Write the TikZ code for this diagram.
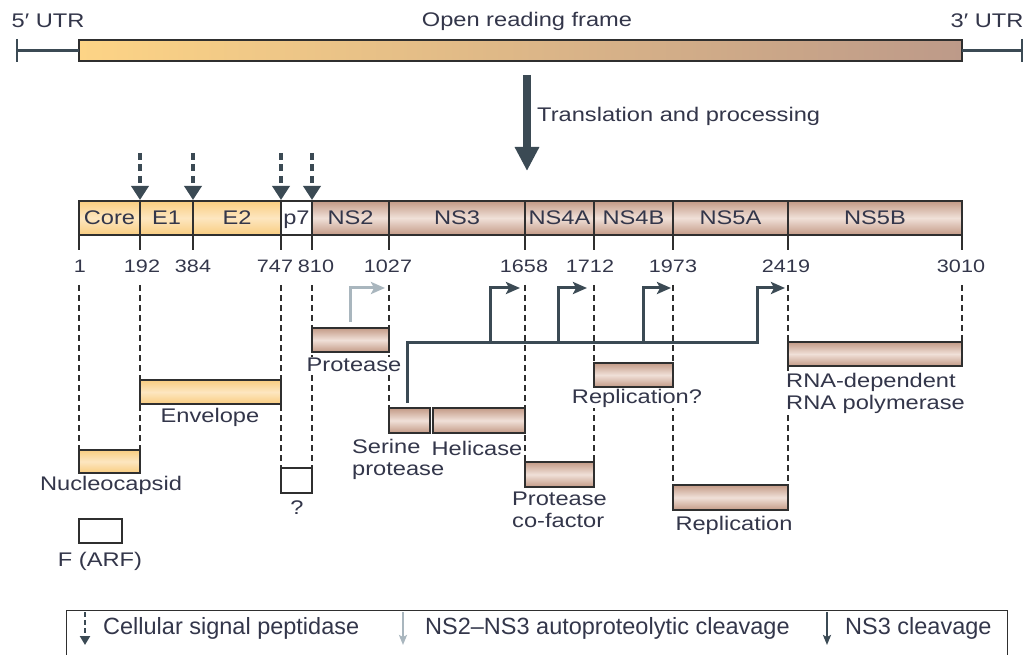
\documentclass[tikz,border=0pt]{standalone}
\usepackage{fontspec}
\setmainfont{Liberation Sans}[FakeStretch=1.2]
\newfontfamily\legfont{Liberation Sans}
\usetikzlibrary{arrows.meta,calc}
\pgfdeclarelayer{bg}
\pgfsetlayers{bg,main}
\definecolor{txt}{HTML}{33364A}
\definecolor{dk}{HTML}{3B4A54}
\definecolor{edge}{HTML}{2F2F2F}
\definecolor{gr}{HTML}{A9B6BE}
\definecolor{yA}{HTML}{F9CD80}
\definecolor{yB}{HTML}{FDE6C0}
\definecolor{bA}{HTML}{C39A86}
\definecolor{bB}{HTML}{F0E0D8}
\definecolor{oL}{HTML}{FDD486}
\definecolor{oR}{HTML}{BD9A89}
\tikzset{
  box/.style={draw=edge, line width=1.3pt, inner sep=0pt, outer sep=0pt, anchor=north west},
  ybox/.style={box, top color=yA, bottom color=yA, middle color=yB},
  bbox/.style={box, top color=bA, bottom color=bA, middle color=bB},
  wbox/.style={box, fill=white},
  segtext/.style={text=txt, font=\fontsize{19.7}{22}\selectfont, text height=14pt, text depth=0pt, minimum height=34pt},
  lbl/.style={text=txt, font=\fontsize{19.7}{22}\selectfont, inner sep=1pt, fill=white},
  num/.style={text=txt, font=\fontsize{18}{20}\selectfont, inner sep=0pt},
  legtext/.style={text=txt, font=\legfont\fontsize{23.5}{26}\selectfont, inner sep=0pt, anchor=west},
  dline/.style={edge, line width=1.3pt, dash pattern=on 6pt off 4pt},
  tickline/.style={edge, line width=1.5pt},
  utr/.style={dk, line width=2.2pt},
  sig/.style={dk, line width=3.6pt, dash pattern=on 7pt off 4.5pt, -{Triangle[length=14pt,width=17pt]}},
  sigleg/.style={dk, line width=2.4pt, dash pattern=on 5pt off 3pt, -{Triangle[length=9pt,width=10pt]}},
  grarrow/.style={gr, line width=3pt, -{Stealth[length=14pt,width=12pt,inset=3pt]}},
  grleg/.style={gr, line width=2.2pt, -{Stealth[length=10pt,width=8pt,inset=2pt]}},
  ns3arrow/.style={dk, line width=3pt, -{Stealth[length=14pt,width=12pt,inset=3pt]}},
  ns3leg/.style={dk, line width=2.2pt, -{Stealth[length=10pt,width=8pt,inset=2pt]}},
  bigarrow/.style={dk, line width=7.5pt, -{Triangle[length=24pt,width=23pt]}},
}
\begin{document}
\begin{tikzpicture}[x=1pt,y=-1pt]
\useasboundingbox (0,0) rectangle (1029,655);

% ---------- genome ----------
\node[box, left color=oL, right color=oR, minimum width=883pt, minimum height=21pt] (orf) at (79,40) {};
\coordinate (u5) at (17,50.5);
\coordinate (u5t) at (17,39);
\coordinate (u5b) at (17,62);
\coordinate (u3) at (1022,50.5);
\coordinate (u3t) at (1022,39);
\coordinate (u3b) at (1022,62);
\draw[utr] (u5) -- (orf.west);
\draw[utr] (u5t) -- (u5b);
\draw[utr] (orf.east) -- (u3);
\draw[utr] (u3t) -- (u3b);
\node[lbl] (t5) at (48,21) {5′ UTR};
\node[lbl] (torf) at (527,21) {Open reading frame};
\node[lbl] (t3) at (987,21) {3′ UTR};

\coordinate (a1) at (527,75);
\coordinate (a2) at (527,171);
\draw[bigarrow] (a1) -- (a2);
\node[lbl, anchor=west] (ttp) at (536,116) {Translation and processing};

% ---------- polyprotein ----------
\node[ybox, segtext, minimum width=61pt] (core) at (79,201) {Core};
\node[ybox, segtext, minimum width=53pt] (e1) at (140,201) {E1};
\node[ybox, segtext, minimum width=88pt] (e2) at (193,201) {E2};
\node[wbox, segtext, minimum width=31pt] (p7) at (281,201) {p7};
\node[bbox, segtext, minimum width=77pt] (ns2) at (312,201) {NS2};
\node[bbox, segtext, minimum width=136pt] (ns3) at (389,201) {NS3};
\node[bbox, segtext, minimum width=69pt] (ns4a) at (525,201) {NS4A};
\node[bbox, segtext, minimum width=79pt] (ns4b) at (594,201) {NS4B};
\node[bbox, segtext, minimum width=115pt] (ns5a) at (673,201) {NS5A};
\node[bbox, segtext, minimum width=174pt] (ns5b) at (788,201) {NS5B};

\foreach \n in {core,e1,e2,p7,ns2,ns3,ns4a,ns4b,ns5a,ns5b}
  \draw[tickline] (\n.south west) -- ++(0,15);
\draw[tickline] (ns5b.south east) -- ++(0,15);

\node[num] (n1) at (80,266) {1};
\node[num] (n192) at (142,266) {192};
\node[num] (n384) at (193,266) {384};
\node[num] (n747) at (275,266) {747};
\node[num] (n810) at (316,266) {810};
\node[num] (n1027) at (388,266) {1027};
\node[num] (n1658) at (524,266) {1658};
\node[num] (n1712) at (590,266) {1712};
\node[num] (n1973) at (673,266) {1973};
\node[num] (n2419) at (786,266) {2419};
\node[num] (n3010) at (961,266) {3010};

% signal peptidase arrows
\foreach \n in {e1,e2,p7,ns2}
  \draw[sig] ([yshift=48pt]\n.north west) -- ([yshift=1pt]\n.north west);

% ---------- labels (white backing, drawn before boxes) ----------
\node[lbl] (lenv) at (210,417) {Envelope};
\node[lbl] (lnuc) at (111,485) {Nucleocapsid};
\node[lbl] (lq) at (297,508) {?};
\node[lbl] (lf) at (100,561) {F (ARF)};
\node[lbl] (lprot) at (354,365) {Protease};
\node[lbl, anchor=west, align=left] (lser) at (351,459) {Serine\\protease};
\node[lbl] (lhel) at (477,448) {Helicase};
\node[lbl, anchor=west, align=left] (lcof) at (511,510) {Protease\\co-factor};
\node[lbl] (lrepq) at (637,398) {Replication?};
\node[lbl] (lrep) at (734,525) {Replication};
\node[lbl, anchor=west, align=left] (lrdrp) at (785,393) {RNA-dependent\\RNA polymerase};

% ---------- product boxes ----------
\node[ybox, minimum width=61pt, minimum height=23pt] (nuc) at (79,450) {};
\node[ybox, minimum width=141pt, minimum height=24pt] (env) at (140,380) {};
\node[wbox, minimum width=31pt, minimum height=25pt] (q) at (281,468) {};
\node[wbox, minimum width=43pt, minimum height=24pt] (farf) at (79,519) {};
\node[bbox, minimum width=77pt, minimum height=24pt] (prot) at (312,328) {};
\node[bbox, minimum width=41pt, minimum height=25pt] (ser) at (389,408) {};
\node[bbox, minimum width=92pt, minimum height=25pt] (hel) at (433,408) {};
\node[bbox, minimum width=69pt, minimum height=25pt] (cof) at (525,462) {};
\node[bbox, minimum width=79pt, minimum height=24pt] (repq) at (594,363) {};
\node[bbox, minimum width=115pt, minimum height=25pt] (rep) at (673,485) {};
\node[bbox, minimum width=174pt, minimum height=24pt] (rdrp) at (788,342) {};

% ---------- dashed guide lines ----------
\begin{pgfonlayer}{bg}
\draw[dline] ([yshift=-50pt]core.south west) -- (nuc.north west);
\draw[dline] ([yshift=-50pt]e1.south west) -- (nuc.north east);
\draw[dline] ([yshift=-50pt]p7.south west) -- (q.north west);
\draw[dline] ([yshift=-50pt]ns2.south west) -- (q.north east);
\draw[dline] ([yshift=-50pt]ns3.south west) -- (ser.north west);
\draw[dline] ([yshift=-50pt]ns4a.south west) -- (cof.north west);
\draw[dline] ([yshift=-50pt]ns4b.south west) -- (cof.north east);
\draw[dline] ([yshift=-50pt]ns5a.south west) -- (rep.north west);
\draw[dline] ([yshift=-50pt]ns5b.south west) -- (rep.north east);
\draw[dline] ([yshift=-50pt]ns5b.south east) -- (rdrp.north east);
\end{pgfonlayer}

% ---------- cleavage arrows ----------
\coordinate (g1) at (385,288);
\draw[grarrow] ([yshift=6pt]prot.north) |- (g1);

\coordinate (t0) at ([xshift=18pt,yshift=5pt]ser.north west);
\coordinate (h4) at (757,343);
\coordinate (h1) at (490,343);
\coordinate (h2) at (558,343);
\coordinate (h3) at (643,343);
\coordinate (c1) at (520,288);
\coordinate (c2) at (587,288);
\coordinate (c3) at (671,288);
\coordinate (c4) at (785,288);
\draw[ns3arrow] (t0) |- (h4) |- (c4);
\draw[ns3arrow] (h1) |- (c1);
\draw[ns3arrow] (h2) |- (c2);
\draw[ns3arrow] (h3) |- (c3);

% ---------- legend ----------
\node[draw=edge, line width=1.3pt, inner sep=0pt, anchor=north west, minimum width=941pt, minimum height=60pt] (leg) at (66,610) {};
\coordinate (l1a) at (85,612);
\coordinate (l1b) at (85,645);
\coordinate (l2a) at (403,612);
\coordinate (l2b) at (403,645);
\coordinate (l3a) at (827,612);
\coordinate (l3b) at (827,645);
\draw[sigleg] (l1a) -- (l1b);
\draw[grleg] (l2a) -- (l2b);
\draw[ns3leg] (l3a) -- (l3b);
\node[legtext] (lg1) at (103,628) {Cellular signal peptidase};
\node[legtext] (lg2) at (425,628) {NS2–NS3 autoproteolytic cleavage};
\node[legtext] (lg3) at (845,628) {NS3 cleavage};
\end{tikzpicture}
\end{document}
